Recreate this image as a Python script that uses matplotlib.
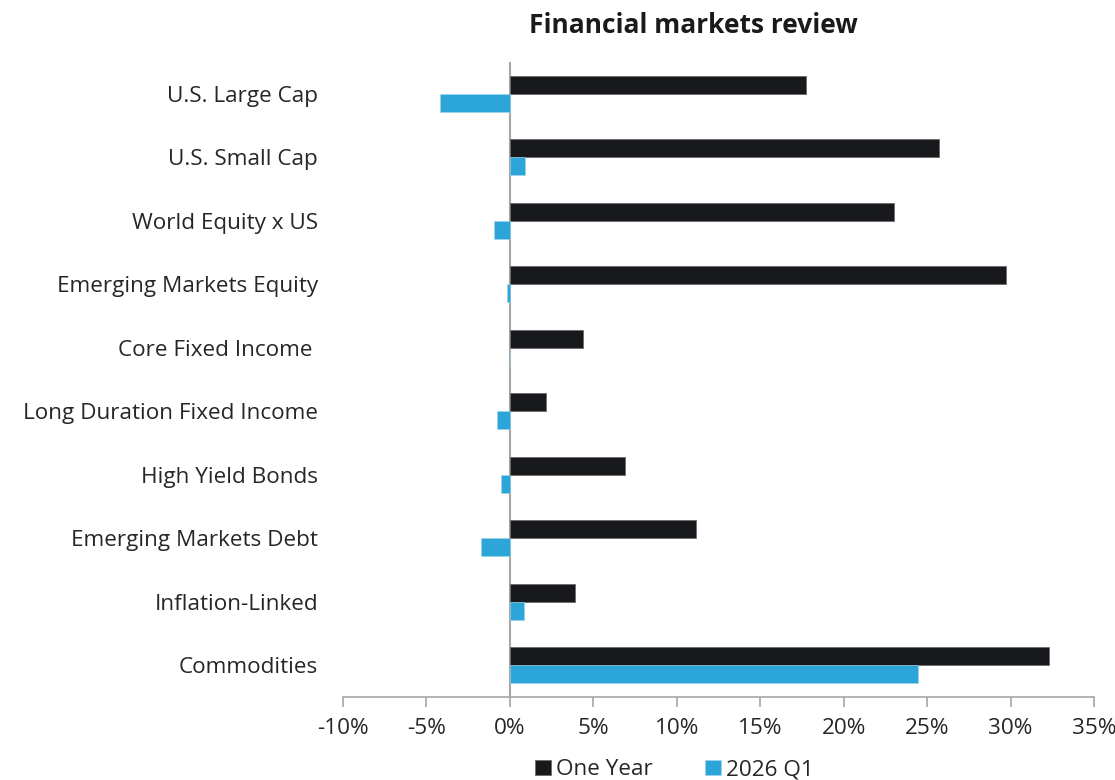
import matplotlib
matplotlib.use("Agg")
import matplotlib.pyplot as plt
import numpy as np

categories = ["U.S. Large Cap", "U.S. Small Cap", "World Equity x US",
              "Emerging Markets Equity", "Core Fixed Income ",
              "Long Duration Fixed Income", "High Yield Bonds",
              "Emerging Markets Debt", "Inflation-Linked", "Commodities"]
one_year = [17.75, 25.74, 23.03, 29.7, 4.38, 2.19, 6.91, 11.13, 3.92, 32.3]
q1_2026 = [-4.18, 0.9, -0.93, -0.16, 0.03, -0.75, -0.52, -1.73, 0.84, 24.44]
xticks = [-10, -5, 0, 5, 10, 15, 20, 25, 30, 35]
series_names = ["One Year", "2026 Q1"]

plt.rcParams['font.family'] = ['Open Sans', 'DejaVu Sans']
txt = '#262626'
fs = 16.2

fig = plt.figure(figsize=(11.15, 7.8), dpi=100)
ax = fig.add_axes([0.3076, 0.1064, 0.6736, 0.8141])

y = np.arange(len(categories))
h = 0.284
ax.barh(y - h/2, one_year, height=h, color='#18191d', edgecolor='#6b6b6b', linewidth=0.6, label=series_names[0])
ax.barh(y + h/2, q1_2026, height=h, color='#2ca6d8', edgecolor='#9fd3ec', linewidth=0.4, label=series_names[1])

ax.set_xlim(-10, 35)
ax.set_ylim(len(categories) - 0.5, -0.5)
ax.axvline(0, color='#a6a6a6', linewidth=1.5, zorder=0.5)

ax.set_yticks(y)
ax.set_yticklabels(categories, fontsize=fs, color=txt)
ax.tick_params(axis='y', length=0, pad=18)

ax.set_xticks(xticks)
ax.set_xticklabels([f"{v}%" for v in xticks], fontsize=fs, color=txt)
ax.tick_params(axis='x', length=7, width=1.2, color='#a6a6a6', pad=8)

for s in ['top', 'right', 'left']:
    ax.spines[s].set_visible(False)
ax.spines['bottom'].set_color('#a6a6a6')
ax.spines['bottom'].set_linewidth(1.2)

fig.text(0.6215, 0.967, "Financial markets review", ha='center', va='center',
         fontsize=19, fontweight='bold', color='#1a1a1a')

leg = fig.legend(loc='center', bbox_to_anchor=(0.605, 0.013), ncol=2, frameon=False,
                 fontsize=fs, handlelength=0.7, handleheight=0.7, handletextpad=0.25,
                 columnspacing=2.3, labelcolor=txt)

fig.savefig("out.png", dpi=100)
